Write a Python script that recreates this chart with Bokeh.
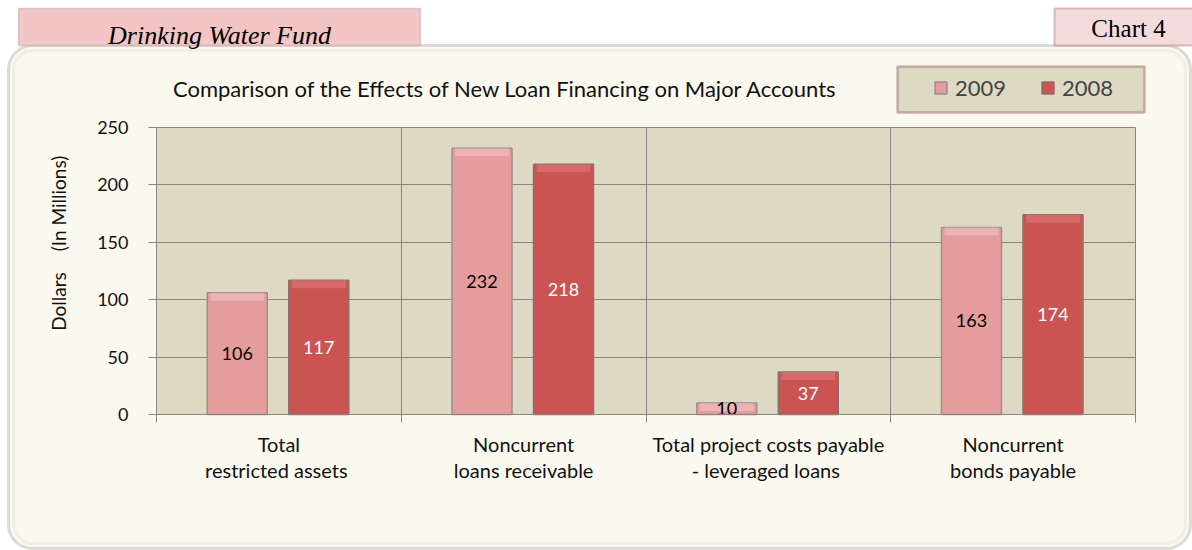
import numpy as np
from bokeh.plotting import figure
from bokeh.models import (ColumnDataSource, Range1d, FixedTicker, BoxAnnotation,
                          Label, Legend, LegendItem)
from bokeh.core.properties import value
from bokeh.embed import file_html
from bokeh.resources import INLINE

# ---- data ----
categories = ["Total\nrestricted  assets", "Noncurrent\nloans receivable",
              "Total project costs payable\n- leveraged  loans", "Noncurrent\nbonds payable"]
series_names = ["2009", "2008"]
values_2009 = [106, 232, 10, 163]
values_2008 = [117, 218, 37, 174]
y_ticks = [0, 50, 100, 150, 200, 250]

title_text = "Comparison of the Effects of New Loan Financing on Major Accounts"
header_text = "Drinking Water Fund"
chart_no_text = "Chart 4"
y_label_parts = ["Dollars", "(In Millions)"]

FONT = "Lato"
C2009 = "#E59C9C"
C2008 = "#CB5352"
PLOT_BG = "#DDD9C3"
CREAM = "#FBF9EF"
GRID = "#868686"

W, H = 1192, 550
# plot area (in canvas pixels) inside a frame that covers the whole canvas
PL, PR, PT, PB = 156, 1135, 127, 414
n = len(categories)
ymax = y_ticks[-1]
xs = (PR - PL) / n
ys = (PB - PT) / ymax
x_range = Range1d(-PL / xs, n + (W - PR) / xs)
y_range = Range1d(-(H - PB) / ys, ymax + PT / ys)

p = figure(width=W, height=H, output_backend="svg", toolbar_location=None,
           x_range=x_range, y_range=y_range,
           min_border_left=0, min_border_right=0, min_border_top=0, min_border_bottom=0)
p.border_fill_color = "white"
p.background_fill_color = "white"
p.outline_line_color = None


def cbox(l, r, t, b, **kw):
    return BoxAnnotation(left=l, right=r, top=t, bottom=b,
                         left_units="canvas", right_units="canvas",
                         top_units="canvas", bottom_units="canvas", **kw)


# rounded cream frame behind everything
p.add_layout(cbox(8, 1190, 45, 548, fill_color=CREAM, fill_alpha=1, line_color="#8F8F8F",
                  line_width=3, border_radius=24, level="image"))
p.add_layout(cbox(13, 1185, 50, 543, fill_alpha=0, line_color="#D9D8D0",
                  line_width=3, border_radius=20, level="image"))
p.add_layout(BoxAnnotation(left=0, right=n, bottom=0, top=ymax,
                           fill_color=PLOT_BG, fill_alpha=1, line_color=None, level="image"))

# header boxes
p.add_layout(cbox(18, 420, 8, 45, fill_color="#F2C4C4", fill_alpha=1, line_color="#A88C8C",
                  line_width=1.5, level="overlay"))
p.add_layout(cbox(21, 417, 11, 42, fill_alpha=0, line_color="#F7DADA",
                  line_width=2, level="overlay"))
p.add_layout(Label(x=219, y=35, x_units="canvas", y_units="canvas", text=header_text,
                   text_font="Liberation Serif", text_font_style="italic",
                   text_font_size="26px", text_align="center", text_baseline="alphabetic",
                   text_color="black", level="overlay"))
p.add_layout(cbox(1054, 1193, 8, 45, fill_color="#F2DCDB", fill_alpha=1, line_color="#953735",
                  line_width=2, level="overlay"))
p.add_layout(Label(x=1128, y=28, x_units="canvas", y_units="canvas", text=chart_no_text,
                   text_font="Liberation Serif", text_font_size="25px", text_color="black",
                   text_align="center", text_baseline="alphabetic", level="overlay"))

# chart title
p.add_layout(Label(x=505, y=88, x_units="canvas", y_units="canvas", text=title_text,
                   text_font=FONT, text_font_size="22px", text_color="#111111",
                   text_align="center", text_baseline="middle"))

# y axis label (two parts, with the wide gap of the original)
for txt, yc in zip(y_label_parts, [301, 203]):
    p.add_layout(Label(x=58, y=yc, x_units="canvas", y_units="canvas", text=txt,
                       angle=np.pi / 2, text_font=FONT, text_font_size="19px",
                       text_color="#111111", text_align="center", text_baseline="middle"))

# bars
centers = np.arange(n) + 0.5
bw = 0.245
hl = 7  # height of the bevel highlight, in value units
src = ColumnDataSource(dict(
    x09=centers - 0.17, x08=centers + 0.163,
    v09=values_2009, v08=values_2008,
    b09=[max(v - hl, 0) for v in values_2009], b08=[max(v - hl, 0) for v in values_2008],
    h09=[v / 2 for v in values_2009], h08=[v / 2 for v in values_2008],
    t09=[str(v) for v in values_2009], t08=[str(v) for v in values_2008]))
r09 = p.vbar(x="x09", top="v09", width=bw, source=src, fill_color=C2009,
             line_color="#A08C8C", line_width=1.5)
r08 = p.vbar(x="x08", top="v08", width=bw, source=src, fill_color=C2008,
             line_color="#8E6E6E", line_width=1.5)
# bevel highlights on top of each bar
p.vbar(x="x09", top="v09", bottom="b09", width=bw * 0.9, source=src,
       fill_color="#F6C8C8", fill_alpha=0.5, line_color=None)
p.vbar(x="x08", top="v08", bottom="b08", width=bw * 0.9, source=src,
       fill_color="#E47F7F", fill_alpha=0.5, line_color=None)
p.text(x="x09", y="h09", text="t09", source=src, text_font=value(FONT),
       text_font_size="18px", text_color="black", text_align="center", text_baseline="middle")
p.text(x="x08", y="h08", text="t08", source=src, text_font=value(FONT),
       text_font_size="18px", text_color="white", text_align="center", text_baseline="middle")

# legend
p.add_layout(cbox(897, 1144, 66, 112, fill_color=PLOT_BG, fill_alpha=1, line_color="#6E1F1F",
                  line_width=2.5, level="underlay"))
legend = Legend(items=[LegendItem(label=series_names[0], renderers=[r09]),
                       LegendItem(label=series_names[1], renderers=[r08])],
                orientation="horizontal", location=(933, H - 101),
                background_fill_alpha=0, border_line_color=None,
                padding=0, margin=0, spacing=34, label_standoff=7,
                glyph_width=15, glyph_height=15, label_height=26,
                label_text_font=FONT, label_text_font_size="22px")
p.add_layout(legend, "center")

# axes (drawn at fixed data locations inside the full-canvas frame)
xax = p.xaxis[0]
xax.fixed_location = 0
xax.bounds = (0, n)
xax.ticker = FixedTicker(ticks=list(centers), minor_ticks=list(range(n + 1)))
xax.major_label_overrides = {float(c): lab for c, lab in zip(centers, categories)}
xax.major_tick_out = 0
xax.major_tick_in = 0
xax.minor_tick_out = 8
xax.minor_tick_in = 0
xax.axis_line_color = GRID
xax.minor_tick_line_color = GRID
xax.major_label_standoff = 9
xax.major_label_text_font = FONT
xax.major_label_text_font_size = "20px"
xax.major_label_text_color = "#111111"
xax.major_label_text_line_height = 1.1

yax = p.yaxis[0]
yax.fixed_location = 0
yax.bounds = (0, ymax)
yax.ticker = FixedTicker(ticks=y_ticks)
yax.major_tick_out = 8
yax.major_tick_in = 0
yax.minor_tick_line_color = None
yax.axis_line_color = GRID
yax.major_tick_line_color = GRID
yax.major_label_standoff = 20
yax.major_label_text_font = FONT
yax.major_label_text_font_size = "18px"
yax.major_label_text_color = "#111111"

xg = p.xgrid[0]
yg = p.ygrid[0]
xg.grid_line_color = None
xg.minor_grid_line_color = GRID
yg.grid_line_color = GRID
xg.level = "underlay"
yg.level = "underlay"
if "cross_bounds" in yg.properties():
    xg.cross_bounds = (0, ymax)
    yg.cross_bounds = (0, n)
    xg.bounds = (0, n)
    yg.bounds = (0, ymax)
else:
    xg.visible = False
    yg.visible = False
    p.segment(x0=0, x1=n, y0=y_ticks, y1=y_ticks, line_color=GRID, level="underlay")
    p.segment(x0=list(range(1, n + 1)), x1=list(range(1, n + 1)), y0=0, y1=ymax,
              line_color=GRID, level="underlay")

open("out.html", "w").write(file_html(p, INLINE))
